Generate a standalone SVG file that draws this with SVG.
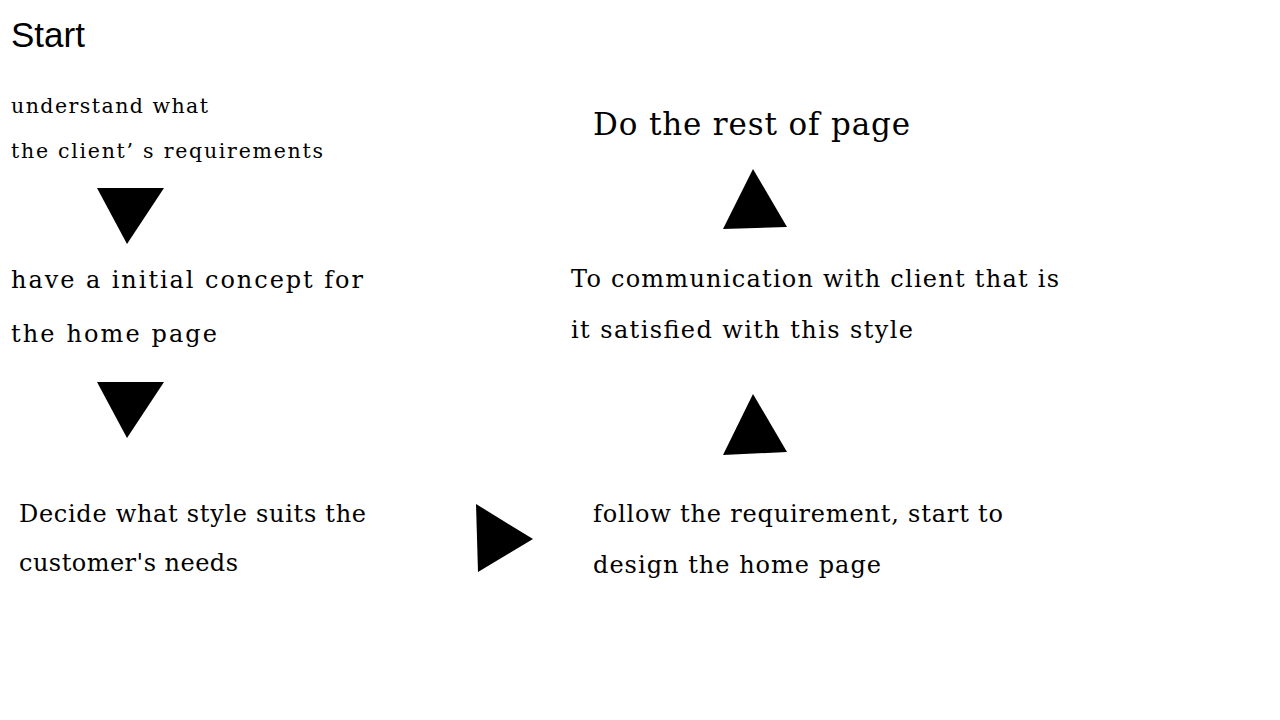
<svg xmlns="http://www.w3.org/2000/svg" width="1280" height="720" viewBox="0 0 1280 720">
<style>
text{font-family:"DejaVu Serif","Noto Sans CJK TC",serif;fill:#000}
.s{font-family:"Liberation Sans",sans-serif;font-size:35px}
.f22{font-size:20.5px}
.f27{font-size:24px}
.f34{font-size:31px}
.tri{fill:#000}
</style>
<rect width="1280" height="720" fill="#fff"/>
<g id="start"><text class="s" x="11" y="47" textLength="74">Start</text></g>
<g id="understand"><text class="f22" x="11" y="113" textLength="197">understand what</text><text class="f22" x="11" y="158" textLength="312">the client’ s requirements</text></g>
<g id="concept"><text class="f27" x="11" y="288" textLength="352">have a initial concept for</text><text class="f27" x="11" y="342" textLength="206">the home page</text></g>
<g id="decide"><text class="f27" x="19" y="522" textLength="347">Decide what style suits the</text><text class="f27" x="19" y="571" textLength="219">customer's needs</text></g>
<g id="follow"><text class="f27" x="593" y="522" textLength="410">follow the requirement, start to</text><text class="f27" x="593" y="573" textLength="288">design the home page</text></g>
<g id="communicate"><text class="f27" x="571" y="287" textLength="488">To communication with client that is</text><text class="f27" x="571" y="338" textLength="342">it satisfied with this style</text></g>
<g id="rest"><text class="f34" x="593" y="135" textLength="317">Do the rest of page</text></g>
<g id="connectors">
<polygon class="tri" points="97,188 164,188 127,244"/>
<polygon class="tri" points="97,382 164,382 127,438"/>
<polygon class="tri" points="476,504 478,572 533,539"/>
<polygon class="tri" points="753,394 723,455 787,452"/>
<polygon class="tri" points="753,169 723,229 787,227"/>
</g>
</svg>
